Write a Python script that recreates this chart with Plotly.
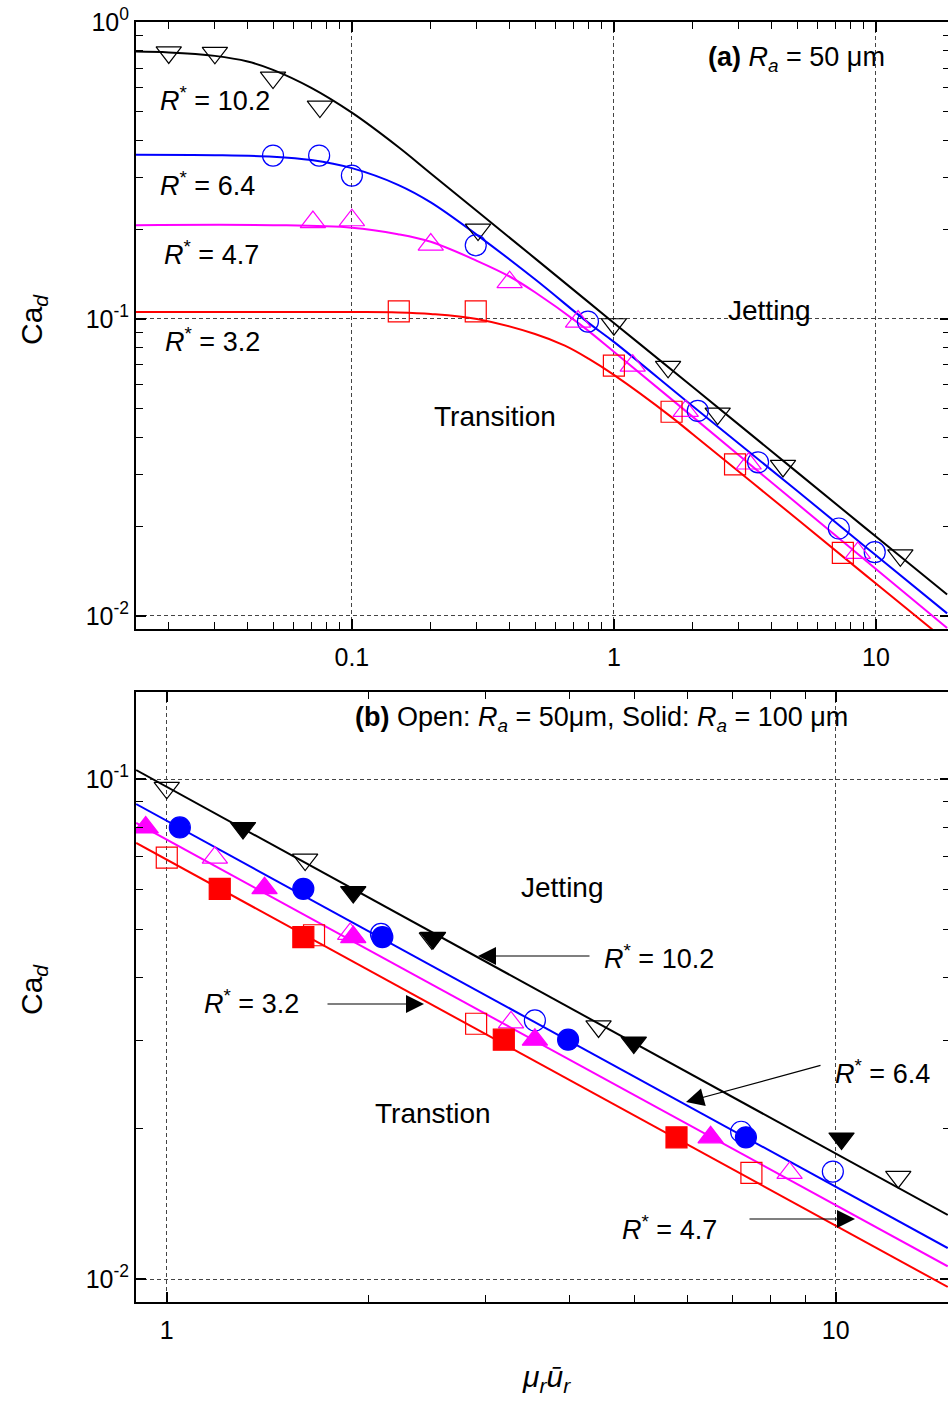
import plotly.graph_objects as go

FONT = "Liberation Sans, Arial, sans-serif"

# ---------------- Panel (a): Ra = 50 um, open markers ----------------
a_x_102 = [0.02, 0.03, 0.05, 0.0755, 0.303, 1.0, 1.61, 2.49, 4.42, 12.4]
a_y_102 = [0.79, 0.787, 0.65, 0.519, 0.20, 0.096, 0.069, 0.048, 0.032, 0.016]
a_x_64 = [0.05, 0.075, 0.1, 0.297, 0.796, 2.09, 3.55, 7.22, 9.9]
a_y_64 = [0.355, 0.355, 0.304, 0.177, 0.098, 0.049, 0.0329, 0.0197, 0.0164]
a_x_47 = [0.071, 0.1, 0.2, 0.40, 0.73, 1.18, 1.88, 3.27, 8.53]
a_y_47 = [0.212, 0.215, 0.178, 0.133, 0.098, 0.0696, 0.049, 0.0326, 0.0163]
a_x_32 = [0.151, 0.297, 1.0, 1.66, 2.9, 7.48]
a_y_32 = [0.106, 0.106, 0.0696, 0.0487, 0.0324, 0.0163]

# fitted curves of panel (a)
fa_x_102 = [0.015, 0.02, 0.03, 0.04, 0.05, 0.07, 0.1, 0.15, 0.2, 0.3, 0.5, 1, 2, 5, 10, 18.7]
fa_y_102 = [0.795, 0.79, 0.769, 0.736, 0.69, 0.60, 0.495, 0.38, 0.309, 0.231, 0.16, 0.097, 0.059, 0.0305, 0.0185, 0.0118]
fa_x_64 = [0.015, 0.03, 0.05, 0.07, 0.1, 0.15, 0.2, 0.3, 0.5, 0.8, 1, 2, 5, 10, 18.7]
fa_y_64 = [0.357, 0.356, 0.352, 0.343, 0.322, 0.283, 0.247, 0.192, 0.136, 0.097, 0.0837, 0.0508, 0.0264, 0.016, 0.0102]
fa_x_47 = [0.015, 0.05, 0.1, 0.15, 0.2, 0.3, 0.4, 0.5, 0.73, 1, 2, 5, 10, 18.7]
fa_y_47 = [0.207, 0.207, 0.203, 0.193, 0.182, 0.157, 0.139, 0.123, 0.097, 0.0776, 0.0468, 0.0239, 0.0144, 0.0091]
fa_x_32 = [0.015, 0.1, 0.15, 0.2, 0.3, 0.5, 0.65, 0.8, 1, 1.65, 2, 5, 10, 18.7]
fa_y_32 = [0.1055, 0.1055, 0.1052, 0.104, 0.1, 0.089, 0.0813, 0.0735, 0.0648, 0.0469, 0.0409, 0.0212, 0.01285, 0.0082]

# ---------------- Panel (b): solid markers, Ra = 100 um ----------------
b_x_102 = [1.3, 1.9, 2.5, 4.99, 10.2]
b_y_102 = [0.0798, 0.0594, 0.0481, 0.0297, 0.0191]
b_x_64 = [1.046, 1.6, 2.1, 3.98, 7.34]
b_y_64 = [0.080, 0.0603, 0.0483, 0.0301, 0.0192]
b_x_47 = [0.93, 1.4, 1.9, 3.55, 6.5]
b_y_47 = [0.080, 0.0605, 0.0483, 0.0301, 0.0192]
b_x_32 = [1.2, 1.6, 3.19, 5.78]
b_y_32 = [0.0603, 0.0483, 0.0301, 0.0192]

# fitted lines of panel (b), read at the axis edges
fb_x = [0.9, 14.7]
fb_y_102 = [0.1042, 0.01343]
fb_y_64 = [0.0891, 0.01153]
fb_y_47 = [0.0817, 0.0106]
fb_y_32 = [0.0745, 0.00964]

COL = {"102": "#000000", "64": "#0000FF", "47": "#FF00FF", "32": "#FF0000"}
SYM = {"102": "triangle-down", "64": "circle", "47": "triangle-up", "32": "square"}
SIZE = {"102": 22, "64": 21, "47": 22, "32": 21}

fig = go.Figure()

def line(x, y, key, xa, ya, spline):
    fig.add_trace(go.Scatter(x=x, y=y, mode="lines", xaxis=xa, yaxis=ya,
                             line=dict(color=COL[key], width=2,
                                       shape="spline" if spline else "linear", smoothing=1.0),
                             showlegend=False, hoverinfo="skip"))

def marks(x, y, key, xa, ya, filled):
    sym = SYM[key] if filled else SYM[key] + "-open"
    fig.add_trace(go.Scatter(x=x, y=y, mode="markers", xaxis=xa, yaxis=ya,
                             marker=dict(symbol=sym, size=SIZE[key], color=COL[key],
                                         line=dict(color=COL[key], width=1.2)),
                             showlegend=False, hoverinfo="skip"))

# panel (a)
for key, fx, fy in [("102", fa_x_102, fa_y_102), ("64", fa_x_64, fa_y_64),
                    ("47", fa_x_47, fa_y_47), ("32", fa_x_32, fa_y_32)]:
    line(fx, fy, key, "x", "y", True)
open_sets = [("102", a_x_102, a_y_102), ("64", a_x_64, a_y_64),
             ("47", a_x_47, a_y_47), ("32", a_x_32, a_y_32)]
for key, x, y in open_sets:
    marks(x, y, key, "x", "y", False)

# panel (b)
for key, fy in [("102", fb_y_102), ("64", fb_y_64), ("47", fb_y_47), ("32", fb_y_32)]:
    line(fb_x, fy, key, "x2", "y2", False)
for key, x, y in open_sets:
    xs = [xx for xx in x if xx >= 0.9]
    ys = [yy for xx, yy in zip(x, y) if xx >= 0.9]
    marks(xs, ys, key, "x2", "y2", False)
for key, x, y in [("102", b_x_102, b_y_102), ("64", b_x_64, b_y_64),
                  ("47", b_x_47, b_y_47), ("32", b_x_32, b_y_32)]:
    marks(x, y, key, "x2", "y2", True)

# ---------------- axes ----------------
W, H = 950, 1402          # 2 px wider than the window: the right frame line falls off-page
L, R, T, B = 136, 0, 22, 100
PW, PH = W - L - R, H - T - B

def py2y(py):
    return (H - B - py) / PH

def px2x(px):
    return (px - L) / PW

tickfont = dict(family=FONT, size=25, color="black")
common = dict(type="log", showline=True, linecolor="black", linewidth=2, mirror="ticks",
              ticks="inside", ticklen=10, tickwidth=1.5, tickcolor="black",
              showgrid=True, gridcolor="#444444", gridwidth=1, griddash="4px,3px",
              zeroline=False, tickfont=tickfont, automargin=False)

def minor(vals):
    return dict(tickvals=vals, ticks="inside", ticklen=7, tickwidth=1.3,
                tickcolor="black", showgrid=False)

dec = [2, 3, 4, 5, 6, 7, 8, 9]
fig.update_layout(
    xaxis=dict(common, domain=[0, 1], anchor="y", range=[-1.824, -1.824 + PW / 262],
               tickvals=[0.1, 1, 10], ticktext=["0.1", "1", "10"],
               minor=minor([d * 0.01 for d in dec] + [d * 0.1 for d in dec] + dec),
               ticklabelstandoff=5),
    yaxis=dict(common, domain=[py2y(629), 1], anchor="x", range=[-2.044, 0],
               tickvals=[0.01, 0.1, 1],
               ticktext=["10<sup>-2</sup>", "10<sup>-1</sup>", "10<sup>0</sup>"],
               minor=minor([d * 0.01 for d in dec] + [d * 0.1 for d in dec])),
    xaxis2=dict(common, domain=[0, 1], anchor="y2", range=[-0.046, -0.046 + PW / 669],
                tickvals=[1, 10], ticktext=["1", "10"], minor=minor(dec),
                ticklabelstandoff=5),
    yaxis2=dict(common, domain=[0, py2y(692)], anchor="x2", range=[-2.046, -0.826],
                tickvals=[0.01, 0.1], ticktext=["10<sup>-2</sup>", "10<sup>-1</sup>"],
                minor=minor([d * 0.01 for d in dec])),
)

# ---------------- annotations ----------------
ann = []

def txt(text, px, py, size=27, xanchor="left", angle=0):
    ann.append(dict(text=text, x=px2x(px), y=py2y(py), xref="paper", yref="paper",
                    xanchor=xanchor, yanchor="middle", showarrow=False, textangle=angle,
                    font=dict(family=FONT, size=size, color="black")))

def arrow(hx, hy, tx, ty):
    ann.append(dict(text="", x=px2x(hx), y=py2y(hy), xref="paper", yref="paper",
                    ax=tx - hx, ay=ty - hy, axref="pixel", ayref="pixel",
                    showarrow=True, arrowhead=2, arrowsize=3.0, arrowwidth=1.2,
                    arrowcolor="black"))

RS = "<i>R</i><sup>*</sup> = "
# panel (a)
txt(RS + "10.2", 158, 99)
txt(RS + "6.4", 158, 184)
txt(RS + "4.7", 162, 253)
txt(RS + "3.2", 163, 340)
txt("<b>(a)</b> <i>R</i><sub><i>a</i></sub> = 50 μm", 706, 59)
txt("Jetting", 769, 310, size=28, xanchor="center")
txt("Transition", 495, 416, size=28, xanchor="center")
txt("Ca<sub><i>d</i></sub>", 33, 320, size=30, xanchor="center", angle=-90)
# panel (b)
txt("<b>(b)</b> Open: <i>R</i><sub><i>a</i></sub> = 50μm, Solid: <i>R</i><sub><i>a</i></sub> = 100 μm",
    353, 719)
txt("Jetting", 562, 887, size=28, xanchor="center")
txt("Transtion", 433, 1113, size=28, xanchor="center")
txt(RS + "10.2", 602, 957)
txt(RS + "3.2", 202, 1002)
txt(RS + "6.4", 833, 1072)
txt(RS + "4.7", 620, 1228)
txt("Ca<sub><i>d</i></sub>", 33, 990, size=30, xanchor="center", angle=-90)
txt("<i>μ</i><sub><i>r</i></sub><i>ū</i><sub><i>r</i></sub>", 546, 1378, size=30, xanchor="center")
arrow(478, 956, 591, 956)
arrow(424, 1004, 326, 1004)
arrow(686, 1102, 822, 1065)
arrow(855, 1219, 748, 1219)

fig.update_layout(width=W, height=H, margin=dict(l=L, r=R, t=T, b=B),
                  paper_bgcolor="white", plot_bgcolor="white",
                  font=dict(family=FONT, color="black"), annotations=ann,
                  showlegend=False)

fig.write_html("out.html", config={"displayModeBar": False},
               post_script="document.body.style.margin='0px';document.body.style.overflow='hidden';")
